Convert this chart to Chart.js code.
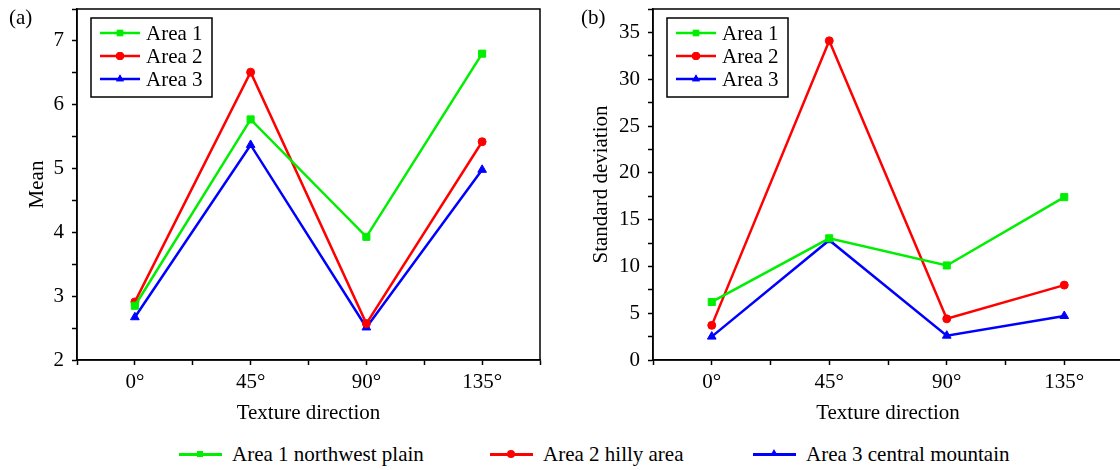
<!DOCTYPE html>
<html>
<head>
<meta charset="utf-8">
<script src="https://cdn.jsdelivr.net/npm/chart.js@4.4.1/dist/chart.umd.min.js"></script>
<style>
  html, body { margin: 0; padding: 0; background: #fff; }
  body { width: 1120px; height: 470px; position: relative; overflow: hidden; font-family: "Liberation Serif", "Times New Roman", serif; }
  .panel { position: absolute; top: 0; height: 430px; }
  #pa { left: 0; width: 560px; }
  #pb { left: 560px; width: 570px; }
  .tag { position: absolute; top: 5px; font-size: 21px; color: #000; }
  #legend { position: absolute; top: 441px; left: 0; width: 1120px; height: 26px; font-size: 21px; }
  .item { position: absolute; top: 0; height: 26px; line-height: 26px; }
  .ln { position: absolute; top: 12px; width: 43px; height: 2.5px; }
  .mk { position: absolute; }
  .txt { position: absolute; white-space: nowrap; }
</style>
</head>
<body>
<div class="panel" id="pa"><canvas id="chartA"></canvas></div>
<div class="panel" id="pb"><canvas id="chartB"></canvas></div>
<div class="tag" style="left:9px">(a)</div>
<div class="tag" style="left:581px">(b)</div>
<div id="legend"></div>
<script>
// data
const directions = [0, 45, 90, 135];
const seriesNames = ['Area 1', 'Area 2', 'Area 3'];
const fullNames = ['Area 1 northwest plain', 'Area 2 hilly area', 'Area 3 central mountain'];
const colors = ['#00ee00', '#ff0000', '#0000ff'];
const markers = ['rect', 'circle', 'triangle'];

const meanArea1 = [2.85, 5.77, 3.93, 6.80];
const meanArea2 = [2.91, 6.51, 2.57, 5.42];
const meanArea3 = [2.67, 5.37, 2.51, 4.98];

const sdArea1 = [6.2, 13.0, 10.1, 17.4];
const sdArea2 = [3.7, 34.1, 4.4, 8.0];
const sdArea3 = [2.5, 12.8, 2.6, 4.7];

const xLabels = ['0°', '45°', '90°', '135°'];

const font = { family: '"Liberation Serif", "Times New Roman", serif', size: 21 };

function makeData(arrs) {
  return arrs.map((vals, i) => ({
    label: seriesNames[i],
    data: vals.map((v, j) => ({ x: directions[j], y: v })),
    borderColor: colors[i],
    backgroundColor: colors[i],
    borderWidth: 2.5,
    pointStyle: markers[i],
    pointRadius: i === 1 ? 4 : 5,
    pointBorderWidth: 1,
    tension: 0
  }));
}

// frame + inset legend
const framePlugin = {
  id: 'frame',
  afterDraw(chart) {
    const { ctx, chartArea: a } = chart;
    ctx.save();
    ctx.strokeStyle = '#000';
    ctx.lineWidth = 1.5;
    ctx.strokeRect(a.left, a.top, a.right - a.left, a.bottom - a.top);

    const bx = a.left + 14, by = a.top + 9, bw = 121, bh = 79;
    ctx.fillStyle = '#fff';
    ctx.fillRect(bx, by, bw, bh);
    ctx.strokeRect(bx, by, bw, bh);
    ctx.font = '21px "Liberation Serif", "Times New Roman", serif';
    ctx.textBaseline = 'middle';
    seriesNames.forEach((name, i) => {
      const y = by + 15 + i * 23;
      ctx.strokeStyle = colors[i];
      ctx.lineWidth = 2.5;
      ctx.beginPath();
      ctx.moveTo(bx + 9, y);
      ctx.lineTo(bx + 49, y);
      ctx.stroke();
      ctx.fillStyle = colors[i];
      Chart.helpers.drawPoint(ctx, { pointStyle: markers[i], radius: i === 1 ? 4 : 4.5, borderWidth: 0 }, bx + 29, y);
      ctx.fill();
      ctx.fillStyle = '#000';
      ctx.fillText(name, bx + 55, y + 1);
    });
    ctx.restore();
  }
};

function makeChart(id, arrs, yMin, yMax, yStep, labelEvery, yAxisWidth, yTitle, titlePad, rightPad) {
  return new Chart(document.getElementById(id), {
    type: 'line',
    data: { datasets: makeData(arrs) },
    options: {
      responsive: true,
      maintainAspectRatio: false,
      animation: false,
      layout: { padding: { left: 0, right: rightPad, top: 9, bottom: 0 } },
      plugins: { legend: { display: false }, tooltip: { enabled: false } },
      scales: {
        x: {
          type: 'linear',
          min: -22.5,
          max: 157.5,
          afterFit(s) { s.height = 70; s.paddingLeft = 0; s.paddingRight = 0; },
          afterBuildTicks(s) {
            const t = [];
            for (let v = -22.5; v <= 157.5; v += 22.5) t.push({ value: v });
            s.ticks = t;
          },
          grid: { drawOnChartArea: false, color: '#000', tickLength: 5, tickWidth: 1.5 },
          border: { color: '#000', width: 1.5 },
          ticks: {
            autoSkip: false,
            maxRotation: 0,
            color: '#000',
            font: font,
            padding: 5,
            callback(v) {
              const i = directions.indexOf(v);
              return i >= 0 ? xLabels[i] : '';
            }
          },
          title: { display: true, text: 'Texture direction', color: '#000', font: font, padding: { bottom: 4 } }
        },
        y: {
          min: yMin,
          max: yMax,
          afterFit(s) { s.width = yAxisWidth; s.paddingTop = 0; s.paddingBottom = 0; },
          grid: { drawOnChartArea: false, color: '#000', tickLength: 5, tickWidth: 1.5 },
          border: { color: '#000', width: 1.5 },
          ticks: {
            stepSize: yStep,
            autoSkip: false,
            color: '#000',
            font: font,
            padding: 8,
            callback(v) {
              return Math.abs(v / labelEvery - Math.round(v / labelEvery)) < 1e-6 ? String(v) : '';
            }
          },
          title: { display: true, text: yTitle, color: '#000', font: font, padding: { top: titlePad } }
        }
      }
    },
    plugins: [framePlugin]
  });
}

makeChart('chartA', [meanArea1, meanArea2, meanArea3], 2, 7.5, 0.5, 1, 77, 'Mean', 25, 20);
makeChart('chartB', [sdArea1, sdArea2, sdArea3], 0, 37.5, 2.5, 5, 93, 'Standard deviation', 29, 7);

// bottom legend
const legendPos = [179, 490, 753];
const legend = document.getElementById('legend');
fullNames.forEach((name, i) => {
  const item = document.createElement('div');
  item.className = 'item';
  item.style.left = legendPos[i] + 'px';
  let mk;
  if (i === 0) mk = '<div class="mk" style="left:18px;top:10px;width:6px;height:6px;background:' + colors[i] + '"></div>';
  else if (i === 1) mk = '<div class="mk" style="left:17px;top:9px;width:8px;height:8px;border-radius:50%;background:' + colors[i] + '"></div>';
  else mk = '<div class="mk" style="left:17px;top:8px;width:0;height:0;border-left:4px solid transparent;border-right:4px solid transparent;border-bottom:7px solid ' + colors[i] + '"></div>';
  item.innerHTML = '<div class="ln" style="left:0;background:' + colors[i] + '"></div>' + mk +
    '<span class="txt" style="left:53px">' + name + '</span>';
  legend.appendChild(item);
});
</script>
</body>
</html>
